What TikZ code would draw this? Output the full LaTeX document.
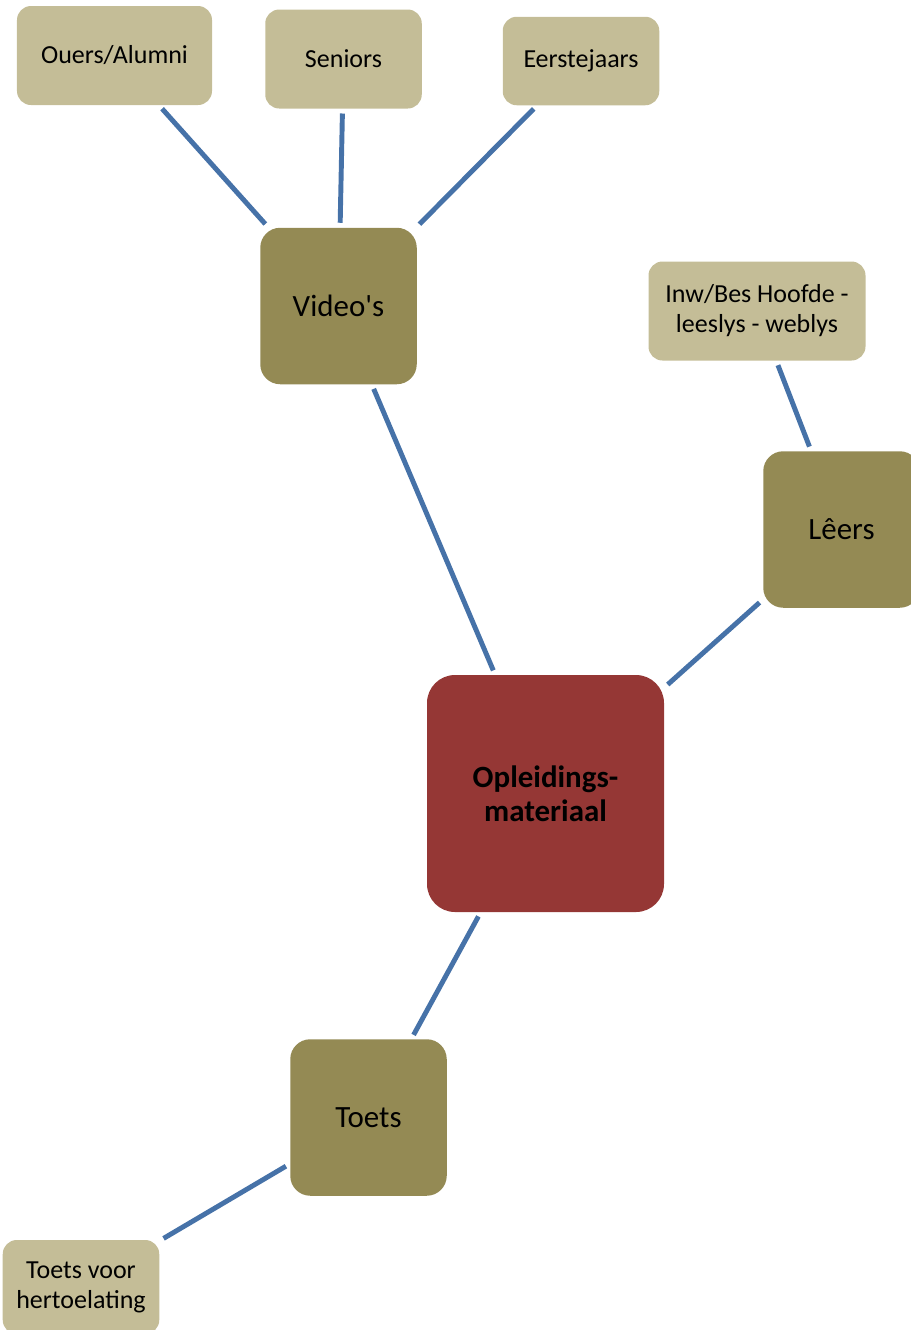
\documentclass[tikz,border=0pt]{standalone}
\usepackage{fontspec}
\setmainfont{Carlito}
\usepackage{tikz}
\usepackage{xcolor}
\usepackage{tkz-graph}
\definecolor{tanbox}{HTML}{C4BD97}
\definecolor{olivebox}{HTML}{948A54}
\definecolor{redbox}{HTML}{953735}
\definecolor{linkblue}{HTML}{4672A8}

\begin{document}
\begin{tikzpicture}
  \useasboundingbox (0,0) rectangle (18.22,-26.60);
  \GraphInit[vstyle=Normal]
  \tikzset{leaf/.style={shape=rectangle,fill=tanbox,draw=none,
                        rounded corners=0.28cm,inner sep=0pt,align=center,
                        text=black,font=\fontsize{14.8}{17.1}\selectfont},
           branch/.style={shape=rectangle,fill=olivebox,draw=none,
                          rounded corners=0.4cm,inner sep=0pt,align=center,
                          minimum width=3.13cm,minimum height=3.13cm,
                          text=black,font=\fontsize{17.6}{20}\selectfont},
           hub/.style={shape=rectangle,fill=redbox,draw=none,
                       rounded corners=0.56cm,inner sep=0pt,align=center,
                       minimum width=4.74cm,minimum height=4.74cm,
                       text=black,font=\fontsize{17.6}{19.4}\selectfont\bfseries}}
  \tikzset{EdgeStyle/.style={line width=2.8pt,draw=linkblue,
                             shorten <=0.1cm,shorten >=0.1cm}}

  % leaves
  \tikzset{VertexStyle/.style={leaf,minimum width=3.9cm,minimum height=1.98cm}}
  \Vertex[x=2.29,y=-1.11,L={Ouers/Alumni}]{Ouers}
  \tikzset{VertexStyle/.style={leaf,minimum width=3.13cm,minimum height=1.98cm}}
  \Vertex[x=6.87,y=-1.18,L={Seniors}]{Seniors}
  \tikzset{VertexStyle/.style={leaf,minimum width=3.13cm,minimum height=1.77cm}}
  \Vertex[x=11.62,y=-1.22,L={Eerstejaars}]{Eerste}
  \tikzset{VertexStyle/.style={leaf,minimum width=4.34cm,minimum height=1.98cm}}
  \Vertex[x=15.14,y=-6.22,L={Inw/Bes Hoofde -\\leeslys - weblys}]{Inw}
  \tikzset{VertexStyle/.style={leaf,minimum width=3.13cm,minimum height=1.88cm}}
  \Vertex[x=1.62,y=-25.74,L={Toets voor\\hertoelating}]{Hertoe}

  % branches
  \tikzset{VertexStyle/.style={branch}}
  \Vertex[x=6.77,y=-6.12,L={Video\textquotesingle s}]{Video}
  \Vertex[x=16.83,y=-10.59,L={Lêers}]{Leers}
  \Vertex[x=7.37,y=-22.35,L={Toets}]{Toets}

  % hub
  \tikzset{VertexStyle/.style={hub}}
  \Vertex[x=10.91,y=-15.87,L={Opleidings-\\materiaal}]{Opleiding}

  % Video
  \Edge(Ouers)(Video)
  \Edge(Seniors)(Video)
  \Edge(Eerste)(Video)
  \Edge(Video)(Opleiding)

  % Leers
  \Edge(Inw)(Leers)
  \Edge(Leers)(Opleiding)

  % Toets
  \Edge(Opleiding)(Toets)
  \Edge(Toets)(Hertoe)
\end{tikzpicture}
\end{document}
